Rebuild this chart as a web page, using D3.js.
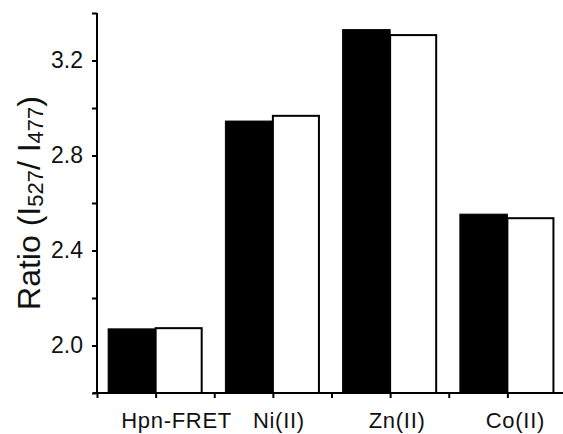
<!DOCTYPE html>
<html><head><meta charset="utf-8">
<script src="https://cdn.jsdelivr.net/npm/d3@7"></script>
<style>body{margin:0;background:#fff;}svg{display:block;font-family:"Liberation Sans",Arial,sans-serif;}</style>
</head><body><svg id="c" width="563" height="434"></svg>
<script>
const categories = ["Hpn-FRET", "Ni(II)", "Zn(II)", "Co(II)"];
const seriesBlack = [2.070, 2.945, 3.330, 2.553];
const seriesWhite = [2.073, 2.967, 3.307, 2.536];
const yTickValues = [1.8, 2.0, 2.2, 2.4, 2.6, 2.8, 3.0, 3.2, 3.4];
const yTickLabels = ["2.0", "2.4", "2.8", "3.2"];

const svg = d3.select("#c");
const mLeft = 97, mBottom = 393, mTop = 13, mRight = 566;
const labelShift = [21, 6, 7, 8];

const x = d3.scaleLinear().domain([0, categories.length]).range([mLeft, mRight]);
const y = d3.scaleLinear().domain([1.8, 3.4]).range([mBottom, mTop]);
const bw = 0.405;

const g = svg.append("g");
// black bars
g.selectAll("rect.b").data(seriesBlack).join("rect").attr("class","b")
  .attr("x", (d,i) => x(i + 0.5 - bw))
  .attr("y", d => y(d))
  .attr("width", (d,i) => x(i + 0.5) - x(i + 0.5 - bw))
  .attr("height", d => y(1.8) - y(d))
  .attr("fill", "#000").attr("stroke", "#000").attr("stroke-width", 1);
// white bars
g.selectAll("rect.w").data(seriesWhite).join("rect").attr("class","w")
  .attr("x", (d,i) => x(i + 0.5))
  .attr("y", d => y(d))
  .attr("width", (d,i) => x(i + 0.5 + bw * 0.97) - x(i + 0.5))
  .attr("height", d => y(1.8) - y(d))
  .attr("fill", "#fff").attr("stroke", "#000").attr("stroke-width", 2);

// y axis
const yAxis = d3.axisLeft(y).tickValues(yTickValues).tickSize(5).tickPadding(9)
  .tickFormat(d => { const s = d3.format(".1f")(d); return yTickLabels.includes(s) ? s : ""; });
const ya = svg.append("g").attr("transform", `translate(${mLeft},0)`).call(yAxis);
ya.select(".domain").attr("d", `M0,${y(3.4)}V${y(1.8)}`).attr("stroke-width", 2);
ya.selectAll(".tick line").attr("stroke-width", 2);
ya.selectAll(".tick text").attr("font-size", 23)
  .attr("font-family", "Liberation Sans, Arial, sans-serif").attr("fill", "#111");

// x axis
const xTicks = d3.range(0, categories.length + 0.01, 0.5);
const xAxis = d3.axisBottom(x).tickValues(xTicks).tickSize(5).tickFormat("");
const xa = svg.append("g").attr("transform", `translate(0,${mBottom})`).call(xAxis);
xa.select(".domain").attr("d", `M${mLeft - 4},0H${mRight}`).attr("stroke-width", 2);
xa.selectAll(".tick line").attr("stroke-width", 2);

// category labels
svg.append("g").selectAll("text").data(categories).join("text")
  .attr("x", (d,i) => x(i + 0.5) + labelShift[i])
  .attr("y", 428)
  .attr("text-anchor", "middle")
  .attr("font-size", 22).attr("letter-spacing", "0.7px").attr("fill", "#111")
  .text(d => d);

// y title
const t = svg.append("text")
  .attr("transform", "translate(40,203) rotate(-90)")
  .attr("text-anchor", "middle")
  .attr("font-size", 32).attr("fill", "#111");
t.append("tspan").text("Ratio (I");
t.append("tspan").attr("font-size", 22).attr("dy", 3).text("527");
t.append("tspan").attr("dy", -3).text("/ I");
t.append("tspan").attr("font-size", 22).attr("dy", 3).text("477");
t.append("tspan").attr("dy", -3).text(")");
</script></body></html>
